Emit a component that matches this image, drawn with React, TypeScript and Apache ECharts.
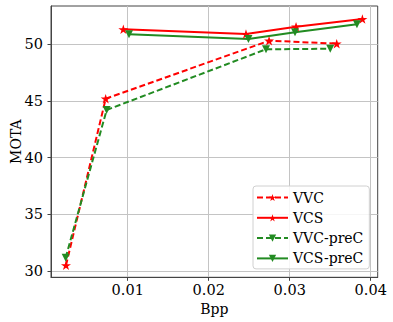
import React, { useEffect, useRef } from "react";
import * as echarts from "echarts";

const vvcBpp = [0.00238, 0.00728, 0.02745, 0.0358];
const vvcMota = [30.5, 45.19, 50.31, 50.05];
const vcsBpp = [0.00946, 0.0246, 0.03078, 0.03897];
const vcsMota = [51.31, 50.9, 51.54, 52.22];
const vvcPreBpp = [0.00234, 0.0074, 0.02707, 0.035];
const vvcPreMota = [31.17, 44.2, 49.55, 49.6];
const vcsPreBpp = [0.01016, 0.0249, 0.03065, 0.0383];
const vcsPreMota = [50.87, 50.46, 51.05, 51.76];

const xTicks = [0.01, 0.02, 0.03, 0.04];
const yTicks = [30, 35, 40, 45, 50];

const STAR =
  "path://M100,0L122.45,69.1L195.1,69.1L136.3,111.8L158.8,180.9L100,138.2L41.2,180.9L63.7,111.8L4.9,69.1L77.55,69.1Z";

const RED = "#ff0000";
const GREEN = "#228b22";
const FONT = "DejaVu Serif";

function pairs(xs: number[], ys: number[]) {
  return xs.map((x, i) => [x, ys[i]]);
}

export default function App() {
  const ref = useRef<HTMLDivElement>(null);
  useEffect(() => {
    if (!ref.current) return;
    const chart = echarts.init(ref.current, undefined, { renderer: "svg" });
    const mk = (
      name: string,
      xs: number[],
      ys: number[],
      color: string,
      dashed: boolean,
      star: boolean
    ) => ({
      name,
      type: "line",
      data: pairs(xs, ys),
      symbol: star ? STAR : "triangle",
      symbolRotate: star ? 0 : 180,
      symbolKeepAspect: true,
      symbolSize: star ? 10 : 8,
      showAllSymbol: true,
      lineStyle: { color, width: 2, type: dashed ? [6, 3] : "solid" },
      itemStyle: { color, borderWidth: 0 },
      z: 3,
    });
    chart.setOption({
      animation: false,
      backgroundColor: "#ffffff",
      textStyle: { fontFamily: FONT },
      grid: {
        left: 51,
        right: 15.3,
        top: 6,
        bottom: 44.7,
        show: true,
        borderColor: "#444",
        borderWidth: 1,
        containLabel: false,
        outerBoundsMode: "none",
      },
      xAxis: {
        type: "value",
        min: 0.00053,
        max: 0.04086,
        name: "Bpp",
        nameLocation: "middle",
        nameGap: 22,
        nameTextStyle: { fontFamily: FONT, fontSize: 14, color: "#000" },
        axisLine: { show: true, lineStyle: { color: "#444", width: 1 } },
        axisTick: { show: true, inside: false, length: 3.5, customValues: xTicks, lineStyle: { color: "#444" } },
        axisLabel: { customValues: xTicks, fontFamily: FONT, fontSize: 14.5, color: "#000", margin: 5, formatter: (v: number) => String(+v.toFixed(2)) },
        splitLine: { show: true, lineStyle: { color: "#c4c4c4", width: 1 } },
      },
      yAxis: {
        type: "value",
        min: 29.44,
        max: 53.37,
        name: "MOTA",
        nameLocation: "middle",
        nameGap: 28,
        nameMoveOverlap: false,
        nameTextStyle: { fontFamily: FONT, fontSize: 14, color: "#000" },
        axisLine: { show: true, lineStyle: { color: "#444", width: 1 } },
        axisTick: { show: true, inside: false, length: 3.5, customValues: yTicks, lineStyle: { color: "#444" } },
        axisLabel: { customValues: yTicks, fontFamily: FONT, fontSize: 14.5, color: "#000", margin: 8 },
        splitLine: { show: true, lineStyle: { color: "#c4c4c4", width: 1 } },
      },
      legend: {
        orient: "vertical",
        left: 253,
        top: 186,
        width: 117,
        padding: [4, 6, 3, 3],
        itemGap: 5.3,
        itemWidth: 31,
        itemHeight: 9,
        backgroundColor: "rgba(255,255,255,0.85)",
        borderColor: "#d0d0d0",
        borderWidth: 1,
        borderRadius: 3,
        textStyle: { fontFamily: FONT, fontSize: 14, color: "#000", lineHeight: 15 },
        data: ["VVC", "VCS", "VVC-preC", "VCS-preC"],
      },
      series: [
        mk("VVC", vvcBpp, vvcMota, RED, true, true),
        mk("VCS", vcsBpp, vcsMota, RED, false, true),
        mk("VVC-preC", vvcPreBpp, vvcPreMota, GREEN, true, false),
        mk("VCS-preC", vcsPreBpp, vcsPreMota, GREEN, false, false),
      ],
    });
    return () => chart.dispose();
  }, []);
  return (
    <div
      ref={ref}
      style={{ position: "fixed", left: 0, top: 0, width: 393, height: 322, background: "#fff" }}
    />
  );
}
